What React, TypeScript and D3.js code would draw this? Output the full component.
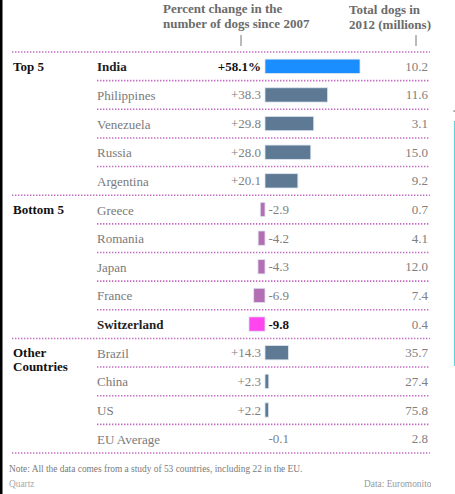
import React from 'react';
import * as d3 from 'd3';

const countries = [
  'India', 'Philippines', 'Venezuela', 'Russia', 'Argentina',
  'Greece', 'Romania', 'Japan', 'France', 'Switzerland',
  'Brazil', 'China', 'US', 'EU Average',
];
const changes = [58.1, 38.3, 29.8, 28.0, 20.1, -2.9, -4.2, -4.3, -6.9, -9.8, 14.3, 2.3, 2.2, -0.1];
const totals = [10.2, 11.6, 3.1, 15.0, 9.2, 0.7, 4.1, 12.0, 7.4, 0.4, 35.7, 27.4, 75.8, 2.8];
const groups = [
  { label: ['Top 5'], start: 0, end: 5 },
  { label: ['Bottom 5'], start: 5, end: 10 },
  { label: ['Other', 'Countries'], start: 10, end: 14 },
];
const highlighted = ['India', 'Switzerland'];
const changeHeader = ['Percent change in the', 'number of dogs since 2007'];
const totalHeader = ['Total dogs in', '2012 (millions)'];
const note = 'Note: All the data comes from a study of 53 countries, including 22 in the EU.';

const W = 455;
const H = 494;
const FONT = "'Liberation Serif', 'DejaVu Serif', serif";
const DOT = '#c46cc4';

const barColor = (name: string, v: number) => {
  if (name === 'India') return '#1a8dff';
  if (name === 'Switzerland') return '#ff45ee';
  return v < 0 ? '#b46fb4' : '#5e7994';
};

const fmtChange = (name: string, v: number) => {
  const s = (v > 0 ? '+' : '') + v.toFixed(1);
  return name === 'India' ? s + '%' : s;
};

export default function App() {
  const x = d3.scaleLinear().domain([0, 58.1]).range([265, 360]);
  const y = d3.scaleLinear().domain([0, countries.length]).range([52, 453]);
  const rowH = y(1) - y(0);

  return (
    <svg width={W} height={H} style={{ position: 'absolute', left: 0, top: 0, background: '#fff' }} fontFamily={FONT}>
      <rect x={0} y={0} width={2.5} height={H} fill="#000" />

      {/* column headers */}
      <g fill="#6b6b6b" fontWeight="bold" fontSize={13}>
        {changeHeader.map((t, i) => (
          <text key={t} x={163} y={13 + i * 14.5}>{t}</text>
        ))}
        {totalHeader.map((t, i) => (
          <text key={t} x={349} y={14 + i * 14.5}>{t}</text>
        ))}
      </g>
      <line x1={241} x2={241} y1={35} y2={46} stroke="#777" />
      <line x1={416} x2={416} y1={35} y2={46} stroke="#777" />

      {/* group separators */}
      {groups.map((g) => (
        <line key={'sep' + g.start} x1={12} x2={430} y1={y(g.start)} y2={y(g.start)}
          stroke={DOT} strokeWidth={1.6} strokeDasharray="1.4 1.6" />
      ))}
      <line x1={12} x2={430} y1={y(countries.length)} y2={y(countries.length)}
        stroke={DOT} strokeWidth={1.6} strokeDasharray="1.4 1.6" />

      {groups.map((g) => (
        <g key={g.label[0]}>
          {g.label.map((t, i) => (
            <text key={t} x={13} y={y(g.start) + rowH / 2 + 4.5 + i * 14} fontWeight="bold" fontSize={13} fill="#111">{t}</text>
          ))}
          {d3.range(g.start + 1, g.end).map((i) => (
            <line key={i} x1={97} x2={430} y1={y(i)} y2={y(i)}
              stroke={DOT} strokeWidth={1.6} strokeDasharray="1.4 1.6" />
          ))}
        </g>
      ))}

      {/* rows */}
      {countries.map((name, i) => {
        const v = changes[i];
        const cy = y(i) + rowH / 2;
        const hl = highlighted.includes(name);
        const x0 = Math.min(x(0), x(v));
        const bw = Math.abs(x(v) - x(0));
        return (
          <g key={name} fontSize={13}>
            <text x={97} y={cy + 5} fill={hl ? '#222' : '#7a7a7a'} fontWeight={hl ? 'bold' : 'normal'}>{name}</text>
            {bw > 0.5 && (
              <rect x={x0} y={cy - 7.2} width={bw} height={14.3} fill={barColor(name, v)}
                stroke="#dde6ef" strokeWidth={0.8} />
            )}
            <text
              x={v >= 0 ? x(0) - 4 : x(0) + 3.5}
              y={cy + 4.5}
              textAnchor={v >= 0 ? 'end' : 'start'}
              fill={hl ? '#111' : '#808080'}
              fontWeight={hl ? 'bold' : 'normal'}
            >
              {fmtChange(name, v)}
            </text>
            <text x={428} y={cy + 4.5} textAnchor="end" fill="#808080">{totals[i].toFixed(1)}</text>
          </g>
        );
      })}

      {/* footer */}
      <text x={9} y={472} fontSize={9.4} fill="#7a7a7a">{note}</text>
      <text x={9} y={487} fontSize={9.4} fill="#aaa">Quartz</text>
      <clipPath id="footclip"><rect x={0} y={470} width={431} height={24} /></clipPath>
      <text x={364} y={487} fontSize={9.4} fill="#999" clipPath="url(#footclip)">Data: Euromonitor</text>

      <line x1={454.5} x2={454.5} y1={121} y2={366} stroke="#5fd2e0" strokeWidth={1.2} />
      <rect x={453.5} y={110.5} width={1.2} height={1.2} fill="#444" />
    </svg>
  );
}
